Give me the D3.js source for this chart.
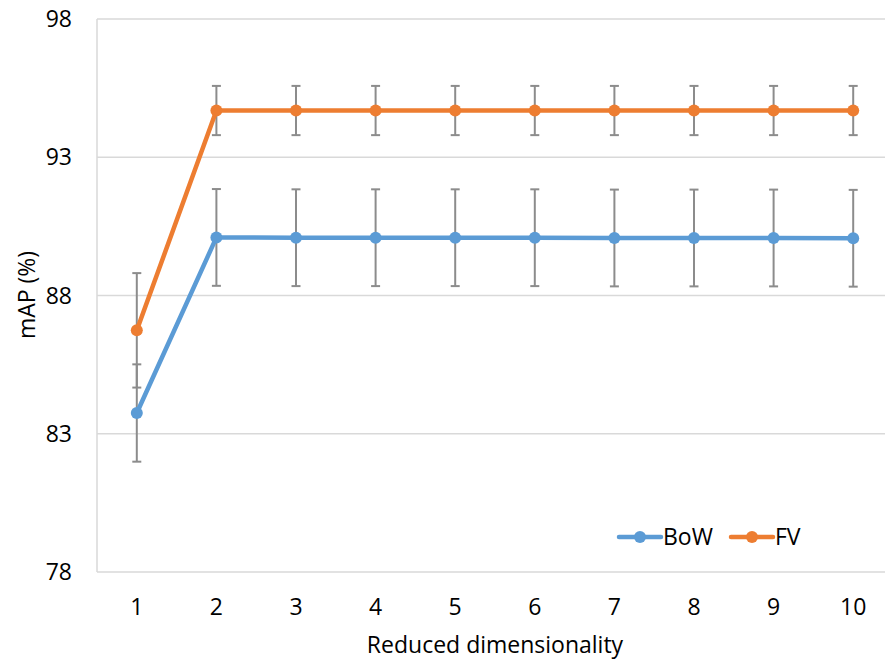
<!DOCTYPE html>
<html>
<head>
<meta charset="utf-8">
<script src="https://cdn.jsdelivr.net/npm/d3@7"></script>
<style>
  body { margin: 0; background: #fff; }
  text { font-family: "Open Sans", Lato, sans-serif; fill: #000; font-size: 23px; }
</style>
</head>
<body>
<div class="chart"></div>
<script>
// data
const dims = [1, 2, 3, 4, 5, 6, 7, 8, 9, 10];
const bowMean = [83.75, 90.1, 90.09, 90.09, 90.09, 90.09, 90.08, 90.08, 90.08, 90.07];
const bowErr = [1.76, 1.75, 1.75, 1.75, 1.75, 1.75, 1.75, 1.75, 1.75, 1.75];
const fvMean = [86.74, 94.69, 94.69, 94.69, 94.69, 94.69, 94.69, 94.69, 94.69, 94.69];
const fvErr = [2.07, 0.89, 0.89, 0.89, 0.89, 0.89, 0.89, 0.89, 0.89, 0.89];
const yTicks = [78, 83, 88, 93, 98];
const seriesNames = ['BoW', 'FV'];

const width = 885;
const height = 659;
const margin = { top: 19, right: -8, bottom: 87, left: 97 };

const series = [
  { name: seriesNames[0], mean: bowMean, err: bowErr, color: '#5b9bd5' },
  { name: seriesNames[1], mean: fvMean, err: fvErr, color: '#ed7d31' }
];

const svg = d3.select('.chart').append('svg')
  .attr('width', width)
  .attr('height', height);

const x = d3.scaleBand()
  .domain(dims)
  .range([margin.left, width - margin.right]);

const y = d3.scaleLinear()
  .domain([78, 98])
  .range([height - margin.bottom, margin.top]);

const cx = d => x(d) + x.bandwidth() / 2;

// gridlines
svg.append('g')
  .selectAll('line')
  .data(yTicks)
  .enter().append('line')
  .attr('x1', margin.left)
  .attr('x2', width - margin.right)
  .attr('y1', d => y(d))
  .attr('y2', d => y(d))
  .attr('stroke', '#d9d9d9')
  .attr('stroke-width', 1.5);

// left axis line
svg.append('line')
  .attr('x1', margin.left).attr('x2', margin.left)
  .attr('y1', y(78)).attr('y2', y(98))
  .attr('stroke', '#d9d9d9')
  .attr('stroke-width', 1.5);

// y tick labels
svg.append('g')
  .selectAll('text')
  .data(yTicks)
  .enter().append('text')
  .attr('x', 72)
  .attr('y', d => y(d))
  .attr('dy', '0.35em')
  .attr('text-anchor', 'end')
  .text(d => d);

// x tick labels
svg.append('g')
  .selectAll('text')
  .data(dims)
  .enter().append('text')
  .attr('x', d => cx(d))
  .attr('y', 607)
  .attr('dy', '0.35em')
  .attr('text-anchor', 'middle')
  .text(d => d);

// axis titles
svg.append('text')
  .attr('x', 495)
  .attr('y', 645)
  .attr('dy', '0.35em')
  .attr('text-anchor', 'middle')
  .text('Reduced dimensionality');

svg.append('text')
  .attr('transform', 'translate(27,295) rotate(-90)')
  .attr('dy', '0.35em')
  .attr('text-anchor', 'middle')
  .text('mAP (%)');

// error bars
series.forEach(function(s) {
  const g = svg.append('g').attr('class', 'err');
  dims.forEach(function(d, i) {
    const top = y(s.mean[i] + s.err[i]);
    const bot = y(s.mean[i] - s.err[i]);
    g.append('line')
      .attr('x1', cx(d)).attr('x2', cx(d))
      .attr('y1', top).attr('y2', bot);
    [top, bot].forEach(function(v) {
      g.append('line')
        .attr('x1', cx(d) - 4.5).attr('x2', cx(d) + 4.5)
        .attr('y1', v).attr('y2', v);
    });
  });
  g.selectAll('line')
    .attr('stroke', '#8c8c8c')
    .attr('stroke-width', 2);
});

// lines and markers
const line = d3.line()
  .x((d, i) => cx(dims[i]))
  .y(d => y(d));

series.forEach(function(s) {
  svg.append('path')
    .attr('d', line(s.mean))
    .attr('fill', 'none')
    .attr('stroke', s.color)
    .attr('stroke-width', 4.5)
    .attr('stroke-linejoin', 'round');

  svg.append('g')
    .selectAll('circle')
    .data(s.mean)
    .enter().append('circle')
    .attr('cx', (d, i) => cx(dims[i]))
    .attr('cy', d => y(d))
    .attr('r', 6)
    .attr('fill', s.color);
});

// legend
const legendX = [619, 731];
series.forEach(function(s, i) {
  const g = svg.append('g')
    .attr('transform', `translate(${legendX[i]},537)`);
  g.append('line')
    .attr('x1', 0).attr('x2', 42)
    .attr('stroke', s.color)
    .attr('stroke-width', 4.5)
    .attr('stroke-linecap', 'round');
  g.append('circle')
    .attr('cx', 21)
    .attr('r', 6)
    .attr('fill', s.color);
  g.append('text')
    .attr('x', 44)
    .attr('dy', '0.35em')
    .text(s.name);
});
</script>
</body>
</html>
